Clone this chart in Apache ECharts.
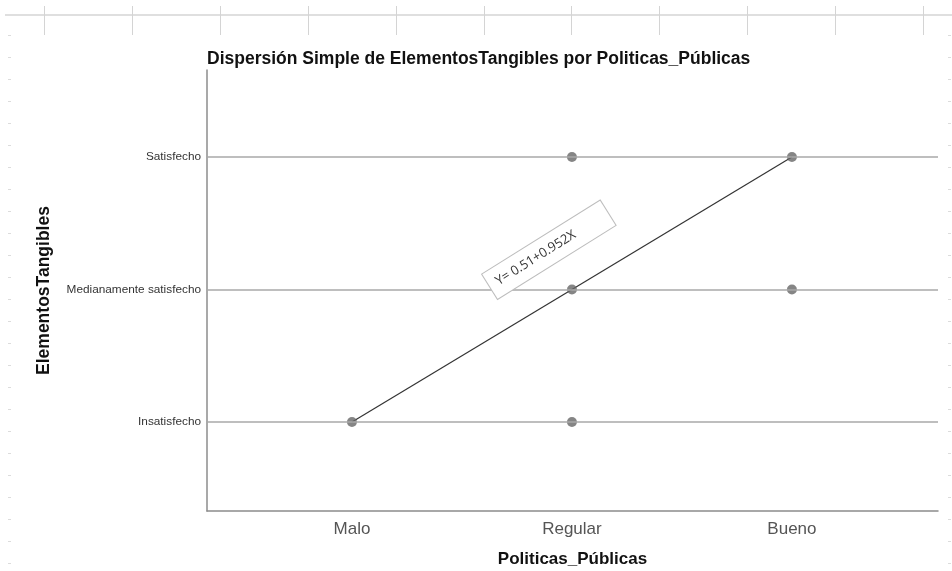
<!DOCTYPE html>
<html><head><meta charset="utf-8">
<script src="https://cdn.jsdelivr.net/npm/echarts@6/dist/echarts.min.js"></script>
<style>html,body{margin:0;padding:0;background:#fff}#c{width:952px;height:571px}</style>
</head><body><div id="c"></div>
<script>
const xCategories = ['Malo', 'Regular', 'Bueno'];
const yCategories = ['Insatisfecho', 'Medianamente satisfecho', 'Satisfecho'];
// observed points: [x category index (1-based), y category index (1-based)]
const pointsX = [1, 2, 2, 2, 3, 3];
const pointsY = [1, 1, 2, 3, 2, 3];
const fitLineX = [1, 3];
const fitLineY = [1, 3];
const equationText = 'Y= 0.51+0.952X';

const chart = echarts.init(document.getElementById('c'));
const font = '"Liberation Sans", Arial, sans-serif';

const graphics = [];
graphics.push({type:'line', shape:{x1:5,y1:15,x2:952,y2:15}, style:{stroke:'#d4d4d4', lineWidth:1.5}, silent:true});
for (let i = 0; i < 11; i++) {
  const x = Math.round(44 + i * 87.9) + 0.5;
  graphics.push({type:'line', shape:{x1:x,y1:6,x2:x,y2:35}, style:{stroke:'#d4d4d4', lineWidth:1}, silent:true});
}
for (let y = 35; y < 571; y += 22) {
  graphics.push({type:'line', shape:{x1:8,y1:y+0.5,x2:11,y2:y+0.5}, style:{stroke:'#dcdcdc', lineWidth:1}, silent:true});
  graphics.push({type:'line', shape:{x1:948,y1:y+0.5,x2:951,y2:y+0.5}, style:{stroke:'#dcdcdc', lineWidth:1}, silent:true});
}

chart.setOption({
  backgroundColor:'#fff',
  animation:false,
  title:{text:'Dispersión Simple de ElementosTangibles por Politicas_Públicas', left:202, top:45,
    textStyle:{fontFamily:font, fontSize:17.5, fontWeight:'bold', color:'#111'}},
  graphic: graphics,
  grid:{left:207, right:14, top:70, bottom:60, containLabel:false, outerBoundsMode:'none'},
  xAxis:{type:'value', min:0.341, max:3.664,
    name:'Politicas_Públicas', nameLocation:'middle', nameGap:40,
    nameTextStyle:{fontFamily:font, fontSize:17, fontWeight:'bold', color:'#111'},
    axisLine:{show:true, onZero:false, lineStyle:{color:'#8c8c8c', width:1.5}},
    axisTick:{show:false},
    splitLine:{show:false},
    axisLabel:{customValues:[1,2,3], formatter:v => xCategories[Math.round(v)-1] || '', margin:10,
      fontFamily:font, fontSize:17, color:'#555'}},
  yAxis:{type:'value', min:0.328, max:3.657,
    name:'ElementosTangibles', nameLocation:'middle', nameGap:154, nameRotate:90,
    nameTextStyle:{fontFamily:font, fontSize:17.5, fontWeight:'bold', color:'#111'},
    axisLine:{show:true, onZero:false, lineStyle:{color:'#8c8c8c', width:1.5}},
    axisTick:{show:false},
    splitLine:{show:false},
    axisLabel:{customValues:[1,2,3], formatter:v => yCategories[Math.round(v)-1] || '', margin:6,
      fontFamily:font, fontSize:11.8, color:'#333'}},
  series:[
    {type:'line', data:[], silent:true,
      markLine:{silent:true, symbol:['none','none'], label:{show:false},
        lineStyle:{color:'#a8a8a8', width:1.5, type:'solid'},
        data:[{yAxis:1},{yAxis:2},{yAxis:3}]}},
    {type:'line', data:fitLineX.map((x,i)=>[x, fitLineY[i]]), showSymbol:false, symbol:'none',
      lineStyle:{color:'#333', width:1.2}, z:3,
      markPoint:{symbol:'rect', symbolSize:0, silent:true,
        data:[{coord:[1.895, 2.30]}],
        label:{show:true, position:'inside', formatter:equationText, rotate:32,
          fontFamily:'"Open Sans", "Liberation Sans", sans-serif', fontSize:13, color:'#333',
          backgroundColor:'#fff', borderColor:'#bdbdbd', borderWidth:1,
          padding:[8, 39, 8, 8]}}},
    {type:'scatter', data:pointsX.map((x,i)=>[x, pointsY[i]]), symbolSize:10,
      itemStyle:{color:'#666666'}, z:4}
  ]
});
</script></body></html>
